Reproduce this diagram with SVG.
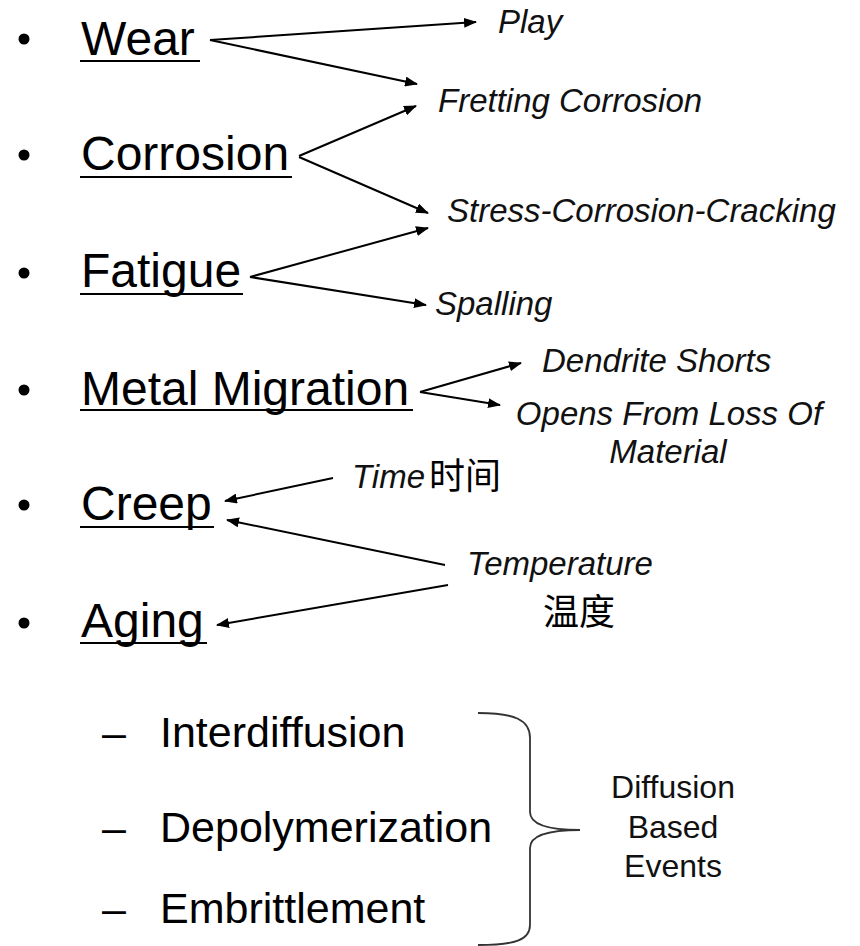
<svg xmlns="http://www.w3.org/2000/svg" width="860" height="946" viewBox="0 0 860 946">
  <style>
    .main { font-family: "Liberation Sans", Arial, sans-serif; font-size: 48px; fill: #000; }
    .sub { font-family: "Liberation Sans", Arial, sans-serif; font-size: 43px; fill: #000; }
    .lbl { font-family: "Liberation Sans", Arial, sans-serif; font-size: 33px; font-style: italic; fill: #111; }
    .note { font-family: "Liberation Sans", Arial, sans-serif; font-size: 32px; fill: #111; }
    .cjk { font-family: "Noto Sans CJK SC", sans-serif; font-size: 36px; fill: #000; }
    .ul { stroke: #000; stroke-width: 2; }
    .bul { fill: #000; }
    .arr { stroke: #000; stroke-width: 2; fill: none; marker-end: url(#head); }
    .brace { stroke: #333; stroke-width: 1.8; fill: none; }
  </style>
  <defs>
    <marker id="head" viewBox="0 0 13 10" markerWidth="13" markerHeight="10" markerUnits="userSpaceOnUse" refX="12" refY="5" orient="auto">
      <path d="M0,0 L13,5 L0,10 Z" fill="#000"/>
    </marker>
  </defs>

  <!-- mechanisms -->
  <g id="wear">
    <circle class="bul" cx="24" cy="39" r="5.5"/>
    <text class="main" x="81" y="55">Wear</text>
    <line class="ul" x1="80" y1="61" x2="200" y2="61"/>
  </g>
  <g id="corrosion">
    <circle class="bul" cx="24" cy="155" r="5.5"/>
    <text class="main" x="81" y="170">Corrosion</text>
    <line class="ul" x1="80" y1="177" x2="292" y2="177"/>
  </g>
  <g id="fatigue">
    <circle class="bul" cx="24" cy="273" r="5.5"/>
    <text class="main" x="81" y="287">Fatigue</text>
    <line class="ul" x1="80" y1="294" x2="243" y2="294"/>
  </g>
  <g id="metal-migration">
    <circle class="bul" cx="24" cy="390" r="5.5"/>
    <text class="main" x="81" y="405">Metal Migration</text>
    <line class="ul" x1="80" y1="410" x2="413" y2="410"/>
  </g>
  <g id="creep">
    <circle class="bul" cx="24" cy="505" r="5.5"/>
    <text class="main" x="81" y="520">Creep</text>
    <line class="ul" x1="80" y1="527" x2="214" y2="527"/>
  </g>
  <g id="aging">
    <circle class="bul" cx="24" cy="623" r="5.5"/>
    <text class="main" x="81" y="637">Aging</text>
    <line class="ul" x1="80" y1="643" x2="207" y2="643"/>
  </g>

  <!-- effects and drivers -->
  <g id="play"><text class="lbl" x="498" y="33">Play</text></g>
  <g id="fretting"><text class="lbl" x="438" y="112">Fretting Corrosion</text></g>
  <g id="scc"><text class="lbl" x="447" y="222">Stress-Corrosion-Cracking</text></g>
  <g id="spalling"><text class="lbl" x="435" y="315">Spalling</text></g>
  <g id="dendrite"><text class="lbl" x="542" y="372">Dendrite Shorts</text></g>
  <g id="opens">
    <text class="lbl" x="669" y="425" text-anchor="middle">Opens From Loss Of</text>
    <text class="lbl" x="668" y="463" text-anchor="middle">Material</text>
  </g>
  <g id="time">
    <text class="lbl" x="352" y="488">Time</text>
    <text class="cjk" x="429" y="489">时间</text>
  </g>
  <g id="temperature">
    <text class="lbl" x="467" y="575">Temperature</text>
    <text class="cjk" x="543" y="625">温度</text>
  </g>

  <!-- aging sub-items -->
  <g id="interdiffusion">
    <text class="sub" x="102" y="747">–</text>
    <text class="sub" x="160" y="747">Interdiffusion</text>
  </g>
  <g id="depolymerization">
    <text class="sub" x="102" y="842">–</text>
    <text class="sub" x="160" y="842">Depolymerization</text>
  </g>
  <g id="embrittlement">
    <text class="sub" x="102" y="923">–</text>
    <text class="sub" x="160" y="923">Embrittlement</text>
  </g>
  <g id="diffusion-events">
    <path class="brace" d="M478,713 C515,713 530,720 530,738 L530,812 C530,824 548,830 580,830 C548,830 530,836 530,848 L530,925 C530,940 515,945 478,945"/>
    <text class="note" x="673" y="798" text-anchor="middle">Diffusion</text>
    <text class="note" x="673" y="838" text-anchor="middle">Based</text>
    <text class="note" x="673" y="877" text-anchor="middle">Events</text>
  </g>

  <!-- connectors -->
  <g id="connectors">
    <line class="arr" x1="210" y1="40" x2="476" y2="22"/>
    <line class="arr" x1="210" y1="40" x2="417" y2="84"/>
    <line class="arr" x1="299" y1="156" x2="416" y2="106"/>
    <line class="arr" x1="299" y1="157" x2="428" y2="213"/>
    <line class="arr" x1="250" y1="277" x2="428" y2="228"/>
    <line class="arr" x1="250" y1="277" x2="426" y2="305"/>
    <line class="arr" x1="420" y1="392" x2="521" y2="363"/>
    <line class="arr" x1="420" y1="392" x2="500" y2="405"/>
    <line class="arr" x1="333" y1="478" x2="225" y2="501"/>
    <line class="arr" x1="445" y1="565" x2="227" y2="520"/>
    <line class="arr" x1="448" y1="585" x2="217" y2="625"/>
  </g>
</svg>
